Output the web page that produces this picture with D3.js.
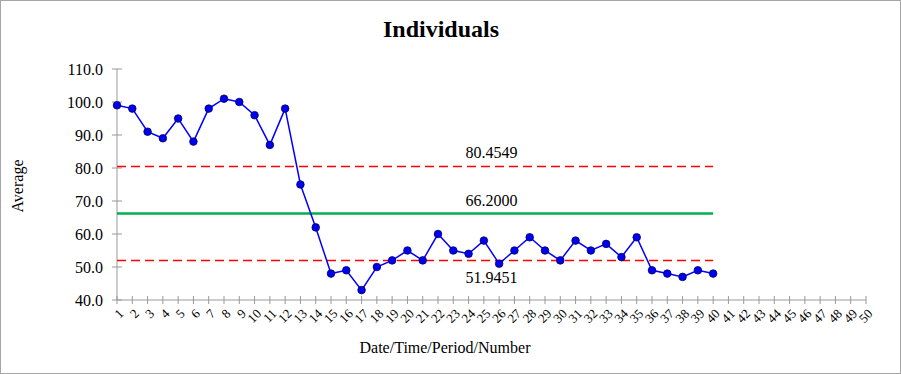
<!DOCTYPE html>
<html>
<head>
<meta charset="utf-8">
<script src="https://cdn.jsdelivr.net/npm/d3@7"></script>
<style>
  body { margin: 0; background: #fff; }
  svg text { font-family: "Liberation Serif", "Times New Roman", serif; fill: #000; }
</style>
</head>
<body>
<div id="chart"></div>
<script>
const categories = d3.range(1, 51);
const values = [99, 98, 91, 89, 95, 88, 98, 101, 100, 96, 87, 98, 75, 62, 48, 49, 43, 50, 52, 55,
  52, 60, 55, 54, 58, 51, 55, 59, 55, 52, 58, 55, 57, 53, 59, 49, 48, 47, 49, 48];
const yTicks = [40, 50, 60, 70, 80, 90, 100, 110];
const centerLine = 66.2;
const ucl = 80.4549;
const lcl = 51.9451;

const width = 901;
const height = 374;

const svg = d3.select('#chart')
  .append('svg')
  .attr('width', width)
  .attr('height', height);

svg.append('rect')
  .attr('x', 0.5).attr('y', 0.5)
  .attr('width', width - 1).attr('height', height - 1)
  .attr('fill', '#fff')
  .attr('stroke', '#a6a6a6');

const xScale = d3.scalePoint().domain(categories).range([117, 866]);
const yScale = d3.scaleLinear().domain([40, 110]).range([300, 69]);

const last = values.length;

// axes
const yAxis = svg.append('g').attr('transform', 'translate(117,0)');
yAxis.append('line')
  .attr('y1', yScale(40)).attr('y2', yScale(110))
  .attr('stroke', '#999');
yAxis.selectAll('line.tick')
  .data(yTicks)
  .join('line')
  .attr('class', 'tick')
  .attr('x1', -5).attr('x2', 5)
  .attr('y1', (d) => yScale(d)).attr('y2', (d) => yScale(d))
  .attr('stroke', '#999');
yAxis.selectAll('text')
  .data(yTicks)
  .join('text')
  .attr('x', -14)
  .attr('y', (d) => yScale(d))
  .attr('dy', '0.35em')
  .attr('text-anchor', 'end')
  .style('font-size', '16px')
  .text((d) => d.toFixed(1));

const xAxis = svg.append('g').attr('transform', `translate(0,${yScale(40)})`);
xAxis.append('line')
  .attr('x1', xScale(1)).attr('x2', xScale(50))
  .attr('stroke', '#999');
xAxis.selectAll('line.tick')
  .data(categories)
  .join('line')
  .attr('class', 'tick')
  .attr('x1', (d) => xScale(d)).attr('x2', (d) => xScale(d))
  .attr('y1', -4).attr('y2', 4)
  .attr('stroke', '#999');
xAxis.selectAll('text')
  .data(categories)
  .join('text')
  .attr('transform', (d) => `translate(${xScale(d) + 1},${8}) rotate(-45)`)
  .attr('text-anchor', 'end')
  .attr('dy', '0.7em')
  .style('font-size', '13px')
  .text((d) => d);

// control lines
const x0 = xScale(1);
const x1 = xScale(last);
const labelX = (xScale(1) + xScale(50)) / 2;

svg.append('line')
  .attr('x1', x0).attr('x2', x1)
  .attr('y1', yScale(ucl)).attr('y2', yScale(ucl))
  .attr('stroke', '#ff0000').attr('stroke-width', 1.5)
  .attr('stroke-dasharray', '9,5');
svg.append('line')
  .attr('x1', x0).attr('x2', x1)
  .attr('y1', yScale(lcl)).attr('y2', yScale(lcl))
  .attr('stroke', '#ff0000').attr('stroke-width', 1.5)
  .attr('stroke-dasharray', '9,5');
svg.append('line')
  .attr('x1', x0).attr('x2', x1)
  .attr('y1', yScale(centerLine)).attr('y2', yScale(centerLine))
  .attr('stroke', '#00b050').attr('stroke-width', 2.5);

svg.append('text')
  .attr('x', labelX).attr('y', yScale(ucl) - 8)
  .attr('text-anchor', 'middle')
  .style('font-size', '16px')
  .text(ucl.toFixed(4));
svg.append('text')
  .attr('x', labelX).attr('y', yScale(centerLine) - 8)
  .attr('text-anchor', 'middle')
  .style('font-size', '16px')
  .text(centerLine.toFixed(4));
svg.append('text')
  .attr('x', labelX).attr('y', yScale(lcl) + 22)
  .attr('text-anchor', 'middle')
  .style('font-size', '16px')
  .text(lcl.toFixed(4));

// data series
const line = d3.line()
  .x((d, i) => xScale(categories[i]))
  .y((d) => yScale(d));

svg.append('path')
  .datum(values)
  .attr('d', line)
  .attr('fill', 'none')
  .attr('stroke', '#0000ff')
  .attr('stroke-width', 1.5);

svg.append('g')
  .selectAll('circle')
  .data(values)
  .join('circle')
  .attr('cx', (d, i) => xScale(categories[i]))
  .attr('cy', (d) => yScale(d))
  .attr('r', 3.8)
  .attr('fill', '#0000ee')
  .attr('stroke', '#000066')
  .attr('stroke-width', 0.8);

// titles
svg.append('text')
  .attr('x', 441).attr('y', 37)
  .attr('text-anchor', 'middle')
  .style('font-size', '24px')
  .style('font-weight', 'bold')
  .text('Individuals');

svg.append('text')
  .attr('x', 445).attr('y', 353)
  .attr('text-anchor', 'middle')
  .style('font-size', '16px')
  .text('Date/Time/Period/Number');

svg.append('text')
  .attr('transform', 'translate(23,186) rotate(-90)')
  .attr('text-anchor', 'middle')
  .style('font-size', '16px')
  .text('Average');
</script>
</body>
</html>
